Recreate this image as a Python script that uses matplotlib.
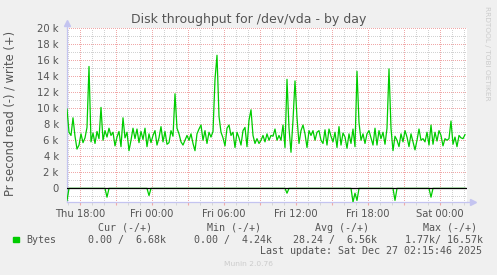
import matplotlib
matplotlib.use('Agg')
import matplotlib.pyplot as plt
import matplotlib.dates as mdates
from matplotlib.patches import Rectangle
from matplotlib.ticker import MultipleLocator, FuncFormatter
import numpy as np
import pandas as pd

# write rate, k bytes/s, one sample every 10 minutes
write_k = [
    9.9, 7.0, 6.6, 8.8, 6.5, 4.9, 5.4, 6.8, 5.7, 6.3,
    7.6, 15.2, 5.8, 6.9, 5.6, 7.1, 6.2, 10.1, 6.0, 7.2,
    6.4, 7.5, 6.6, 7.0, 5.3, 6.4, 7.1, 5.2, 8.8, 6.3,
    7.0, 4.7, 6.0, 7.5, 6.2, 7.4, 5.7, 7.1, 6.1, 7.5,
    5.2, 6.8, 5.7, 6.6, 7.2, 5.4, 6.3, 7.7, 5.8, 7.1,
    5.5, 5.7, 7.2, 6.5, 11.8, 7.5, 6.8, 5.8, 5.4, 6.0,
    6.6, 6.0, 6.8, 5.6, 4.7, 6.8, 7.4, 7.9, 6.0, 7.2,
    5.6, 7.0, 6.4, 7.1, 13.6, 16.6, 9.0, 7.0, 6.3, 5.3,
    7.5, 7.9, 6.6, 7.0, 5.1, 7.0, 6.3, 5.4, 7.2, 7.6,
    5.2, 8.5, 9.8, 6.6, 5.6, 6.2, 5.6, 6.0, 6.6, 5.8,
    6.8, 6.0, 6.6, 6.5, 7.4, 6.0, 6.6, 6.0, 7.9, 5.1,
    13.6, 7.5, 4.5, 8.5, 13.4, 8.8, 5.6, 7.2, 7.9, 6.8,
    5.1, 7.2, 6.6, 7.2, 6.0, 7.0, 7.2, 6.0, 5.6, 7.3,
    5.4, 7.4, 6.5, 5.8, 7.0, 5.1, 7.7, 5.4, 6.9, 6.4,
    5.0, 6.8, 5.6, 7.4, 5.2, 14.6, 8.2, 6.0, 6.8, 5.6,
    6.8, 7.2, 6.3, 5.4, 7.5, 5.4, 7.2, 6.2, 7.0, 5.5,
    7.5, 14.9, 7.5, 4.7, 6.5, 6.0, 5.2, 6.8, 5.8, 7.2,
    6.4, 5.2, 6.8, 5.8, 4.8, 6.0, 7.4, 6.0, 6.2, 5.8,
    7.0, 5.4, 7.9, 5.5, 7.0, 5.9, 7.2, 6.6, 5.3, 6.2,
    6.0, 6.2, 8.4, 5.5, 6.4, 5.2, 6.6, 6.3, 6.2, 6.7,
]
# read rate is zero except a few short bursts (drawn negative)
read_idx = [0, 20, 41, 110, 143, 144, 145, 164, 182]
read_k = [-1.5, -1.1, -0.9, -0.6, -1.7, -0.6, -1.5, -1.5, -1.1]

times = pd.date_range('2025-12-25 16:56', periods=len(write_k), freq='10min')
x_start = pd.Timestamp('2025-12-25 16:56')
x_end = pd.Timestamp('2025-12-27 02:16')

legend_heads = ['Cur (-/+)', 'Min (-/+)', 'Avg (-/+)', 'Max (-/+)']
legend_vals = ['0.00 /  6.68k', '0.00 /  4.24k', '28.24 /  6.56k', '1.77k/ 16.57k']
last_update = 'Last update: Sat Dec 27 02:15:46 2025'

write = np.array(write_k) * 1000
read = np.zeros(len(write_k))
read[read_idx] = np.array(read_k) * 1000

W, H = 497, 275
txt = '#555555'
green = '#00CC00'

def fx(x):
    return x / W

def fy(y):
    return 1 - y / H

fig = plt.figure(figsize=(W / 100, H / 100), dpi=100, facecolor='#F0F0F0')
ax = fig.add_axes([fx(67), fy(202), fx(467) - fx(67), fy(28) - fy(202)])
ax.set_facecolor('white')

ax.plot(times, read, color=green, lw=0.9, zorder=3)
ax.plot(times, write, color=green, lw=0.9, zorder=3)
ax.axhline(0, color='black', lw=0.9, zorder=4)

ax.set_xlim(x_start, x_end)
ax.set_ylim(-1700, 20000)

ax.yaxis.set_major_locator(MultipleLocator(2000))
ax.yaxis.set_minor_locator(MultipleLocator(1000))
ax.yaxis.set_major_formatter(FuncFormatter(lambda v, p: '0' if v == 0 else f'{v / 1000:.0f} k'))
ax.xaxis.set_major_locator(mdates.HourLocator(byhour=range(0, 24, 3)))
ax.xaxis.set_minor_locator(mdates.HourLocator())
ax.xaxis.set_major_formatter(FuncFormatter(
    lambda v, p: mdates.num2date(v).strftime('%a %H:%M') if mdates.num2date(v).hour % 6 == 0 else ''))

ax.grid(which='minor', color='#D2D2D2', lw=0.72, ls=(0, (1, 1.5)), antialiased=False, zorder=1)
ax.grid(which='major', color='#F0A8A8', lw=0.72, ls=(0, (1, 1.5)), antialiased=False, zorder=2)

ax.tick_params(axis='y', which='both', length=0, pad=6, labelsize=7.2, labelcolor=txt)
ax.tick_params(axis='x', which='major', length=2, color='#F0A8A8', pad=3, labelsize=7.2, labelcolor=txt)
ax.tick_params(axis='x', which='minor', length=2, color='#D2D2D2')

for s in ['top', 'right']:
    ax.spines[s].set_visible(False)
for s in ['left', 'bottom']:
    ax.spines[s].set_color('#C4C4F0')
    ax.spines[s].set_linewidth(0.9)

# axis arrows
ax.plot([0, 0], [1, 1.03], color='#C4C4F0', lw=0.9, transform=ax.transAxes, clip_on=False)
ax.plot(0, 1.03, marker='^', ms=4, color='#C4C4F0', transform=ax.transAxes, clip_on=False)
ax.plot([1, 1.01], [0, 0], color='#C4C4F0', lw=0.9, transform=ax.transAxes, clip_on=False)
ax.plot(1.015, 0, marker='>', ms=4, color='#C4C4F0', transform=ax.transAxes, clip_on=False)

fig.text(fx(248.5), fy(19), 'Disk throughput for /dev/vda - by day', ha='center', va='center',
         fontsize=9.0, color=txt)
fig.text(fx(10), fy(113), 'Pr second read (-) / write (+)', rotation=90, ha='center', va='center',
         fontsize=8.3, color=txt)
fig.text(fx(487), fy(53), 'RRDTOOL / TOBI OETIKER', rotation=270, ha='center', va='center',
         fontsize=5.3, color='#CCCCCC')

mono = 'DejaVu Sans Mono'
for head, x in zip(legend_heads, [98, 207, 315, 423]):
    fig.text(fx(x), fy(228), head, ha='left', va='center', fontsize=7.2, family=mono, color=txt)
fig.add_artist(Rectangle((fx(13.3), fy(242.3)), 6 / W, 5.6 / H, transform=fig.transFigure,
                         color=green))
fig.text(fx(26.7), fy(240), 'Bytes', ha='left', va='center', fontsize=7.2, family=mono, color=txt)
for val, x in zip(legend_vals, [88.3, 194.3, 293.3, 405]):
    fig.text(fx(x), fy(240), val, ha='left', va='center', fontsize=7.2, family=mono, color=txt)
fig.text(fx(482), fy(251.5), last_update, ha='right', va='center', fontsize=7.2, family=mono, color=txt)
fig.text(fx(248), fy(264), 'Munin 2.0.76', ha='center', va='center', fontsize=5.4, color='#CCCCCC')

fig.savefig('out.png', dpi=100, facecolor=fig.get_facecolor())
